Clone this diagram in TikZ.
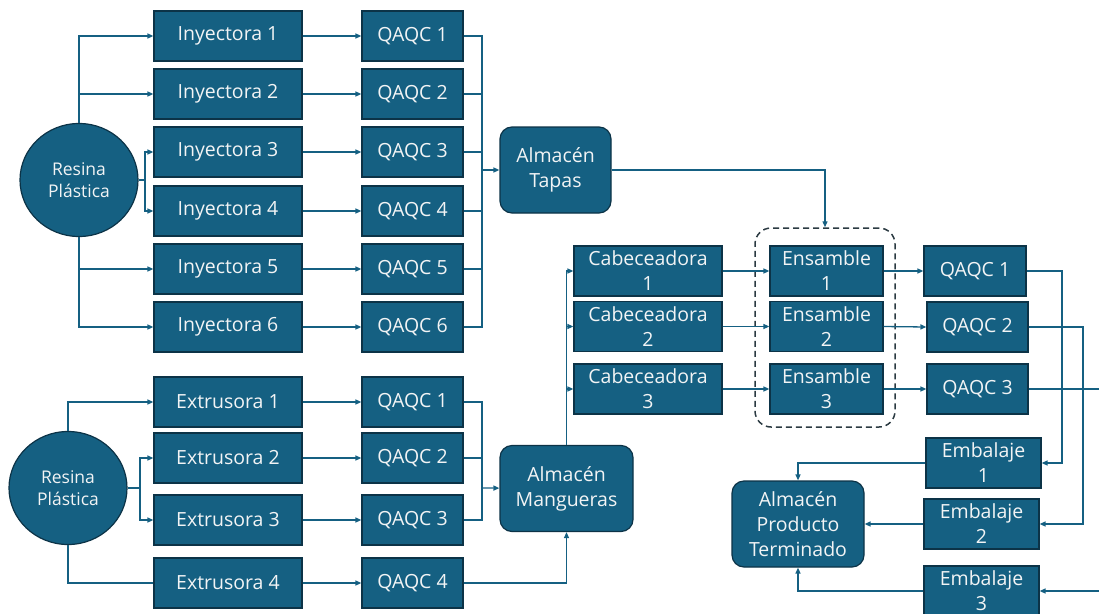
\documentclass[tikz,border=0pt]{standalone}
\usepackage{fontspec}
\setmainfont{Open Sans}
\usetikzlibrary{arrows.meta,shapes.geometric}
\definecolor{mainc}{HTML}{156082}
\definecolor{bdrc}{HTML}{0C3347}
\definecolor{txtc}{HTML}{F2F4F5}
\definecolor{grpc}{HTML}{2B3A42}
\tikzset{
  proc/.style={draw=bdrc, fill=mainc, line width=1.2pt, text=txtc, inner sep=0pt,
    align=center, font=\fontsize{19.5}{25}\selectfont, minimum height=50pt},
  store/.style={proc, rounded corners=12pt, minimum height=86pt},
  src/.style={ellipse, draw=bdrc, fill=mainc, line width=1.2pt, text=txtc, inner sep=0pt,
    align=center, font=\fontsize{17.5}{22}\selectfont, minimum width=118pt, minimum height=113pt},
  link/.style={draw=mainc, line width=1.3pt},
  arr/.style={link, -{Triangle[length=6pt,width=5pt]}},
  grpbox/.style={draw=grpc, line width=1.5pt, dash pattern=on 6pt off 4pt, rounded corners=16pt,
    minimum width=140pt, minimum height=199pt, inner sep=0pt},
}
\begin{document}
\begin{tikzpicture}[x=1pt,y=-1pt]
\path[use as bounding box] (0,0) rectangle (1099,613);
\clip (0,0) rectangle (1099,613);

% ---------- top: injection ----------
\node[src] (r1) at (79,180) {Resina\\Plástica};
\foreach \i/\y in {1/36,2/94,3/152,4/211,5/269,6/327}{
  \node[proc, minimum width=148pt] (i\i) at (228,\y) {Inyectora \i};
  \node[proc, minimum width=101pt] (q\i) at (412.5,\y) {QAQC \i};
}
\node[store, minimum width=111pt] (tapas) at (555.5,170) {Almacén\\Tapas};

\draw[arr] (r1) |- (i1);
\draw[arr] (r1.north |- i2) -- (i2);
\coordinate (rb) at (145,180);
\draw[link] (r1) -- (rb);
\draw[arr] (rb) |- (i3);
\draw[arr] (rb) |- (i4);
\draw[arr] (r1) |- (i6);
\draw[arr] (r1.south |- i5) -- (i5);
\foreach \i in {1,...,6}{ \draw[arr] (i\i) -- (q\i); }
\coordinate (tb) at (482,170);
\foreach \i in {1,...,6}{ \draw[link] (q\i) -| (tb); }
\draw[arr] (tb) -- (tapas);

% ---------- bottom: extrusion ----------
\node[src] (r2) at (68,488) {Resina\\Plástica};
\foreach \i/\y in {1/402,2/458,3/520,4/583}{
  \node[proc, minimum width=148pt] (e\i) at (228,\y) {Extrusora \i};
  \node[proc, minimum width=101pt] (qb\i) at (412.5,\y) {QAQC \i};
}
\node[store, minimum width=133pt] (mang) at (566.5,488.5) {Almacén\\Mangueras};

\draw[arr] (r2) |- (e1);
\coordinate (rb2) at (140,488);
\draw[link] (r2) -- (rb2);
\draw[arr] (rb2) |- (e2);
\draw[arr] (rb2) |- (e3);
\draw[link] (r2) |- (e4);
\foreach \i in {1,...,4}{ \draw[arr] (e\i) -- (qb\i); }
\coordinate (mb) at (482,488);
\foreach \i in {1,2,3}{ \draw[link] (qb\i) -| (mb); }
\draw[arr] (mb) -- (mang);
\draw[arr] (qb4) -| (mang);

% ---------- assembly ----------
\foreach \i/\y in {1/271,2/326.5,3/389}{
  \node[proc, minimum width=148pt] (c\i) at (648,\y) {Cabeceadora\\\i};
  \node[proc, minimum width=113pt] (en\i) at (826.5,\y) {Ensamble\\\i};
}
\node[grpbox] (grp) at (825,327.5) {};
\node[proc, minimum width=102pt] (qr1) at (975,271) {QAQC 1};
\node[proc, minimum width=101pt] (qr2) at (977.5,327) {QAQC 2};
\node[proc, minimum width=101pt] (qr3) at (977.5,389) {QAQC 3};

\draw[arr] (tapas) -| (grp);
\draw[arr] (mang) |- (c1);
\draw[arr] (mang.north |- c2) -- (c2);
\draw[arr] (mang.north |- c3) -- (c3);
\foreach \i in {1,2,3}{ \draw[arr] (c\i) -- (en\i); }
\draw[arr] (en1) -- (qr1);
\draw[arr] (en2.east) -- (qr2.west);
\draw[arr] (en3) -- (qr3);

% ---------- packaging ----------
\node[proc, minimum width=115pt] (emb1) at (983.5,463) {Embalaje\\1};
\node[proc, minimum width=115pt] (emb2) at (981.5,524) {Embalaje\\2};
\node[proc, minimum width=115pt] (emb3) at (981.5,591) {Embalaje\\3};
\node[store, minimum width=132pt] (pt) at (798,524) {Almacén\\Producto\\Terminado};

\coordinate (k1) at (1062,271);
\coordinate (k2) at (1083,327);
\coordinate (k3) at (1120,389);
\draw[arr] (qr1) -- (k1) |- (emb1);
\draw[arr] (qr2) -- (k2) |- (emb2);
\draw[arr] (qr3) -- (k3) |- (emb3);
\draw[arr] (emb1) -| (pt);
\draw[arr] (emb2) -- (pt);
\draw[arr] (emb3) -| (pt);
\end{tikzpicture}
\end{document}
